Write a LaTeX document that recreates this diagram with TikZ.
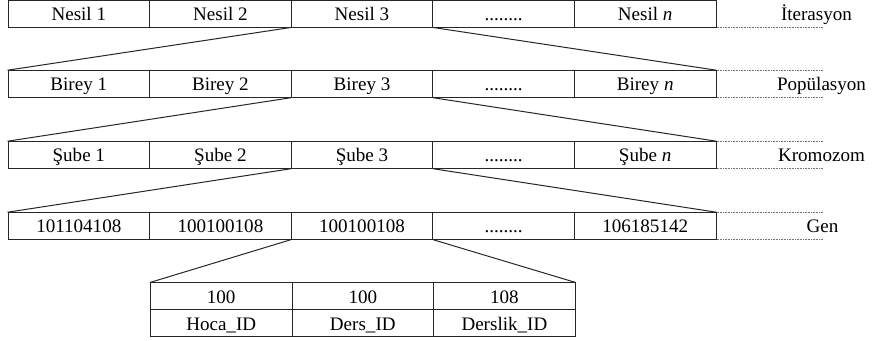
\documentclass[tikz,border=0pt]{standalone}
\usepackage{fontspec}
\setmainfont{Liberation Serif}
\begin{document}
\begin{tikzpicture}[x=0.75pt,y=-0.75pt,
  cell/.style={draw=black!85, line width=0.75pt, minimum width=106.2pt, minimum height=19.9pt, inner sep=0pt, text height=10.4pt, text depth=0pt, font=\fontsize{14.3}{17}\selectfont},
  cellb/.style={cell, minimum height=20.25pt},
  link/.style={draw=black!85, line width=0.75pt},
  dots/.style={draw=black!55, line width=0.75pt, dash pattern=on 0.6pt off 0.6pt},
  lab/.style={font=\fontsize{14.3}{17}\selectfont, inner sep=0pt, text height=10.4pt, text depth=0pt}]
\useasboundingbox (0,0) rectangle (876,341);
\coordinate (lend) at (823,0);
% Row 1
\node[cell] (n1) at (78.8,13.75) {Nesil 1};
\node[cell] (n2) at (220.4,13.75) {Nesil 2};
\node[cell] (n3) at (362,13.75) {Nesil 3};
\node[cell] (n4) at (503.6,13.75) {........};
\node[cell] (n5) at (645.2,13.75) {Nesil \textit{n}};
\node[lab] (l1) at (816.5,13.75) {İterasyon};
% Row 2
\node[cell] (b1) at (78.8,84) {Birey 1};
\node[cell] (b2) at (220.4,84) {Birey 2};
\node[cell] (b3) at (362,84) {Birey 3};
\node[cell] (b4) at (503.6,84) {........};
\node[cell] (b5) at (645.2,84) {Birey \textit{n}};
\node[lab] (l2) at (821.5,84) {Popülasyon};
% Row 3
\node[cell] (s1) at (78.8,155) {Şube 1};
\node[cell] (s2) at (220.4,155) {Şube 2};
\node[cell] (s3) at (362,155) {Şube 3};
\node[cell] (s4) at (503.6,155) {........};
\node[cell] (s5) at (645.2,155) {Şube \textit{n}};
\node[lab] (l3) at (821.5,155) {Kromozom};
% Row 4
\node[cell] (g1) at (78.8,226) {101104108};
\node[cell] (g2) at (220.4,226) {100100108};
\node[cell] (g3) at (362,226) {100100108};
\node[cell] (g4) at (503.6,226) {........};
\node[cell] (g5) at (645.2,226) {106185142};
\node[lab] (l4) at (822.5,226) {Gen};
% Row 5
\node[cellb] (h1) at (221.2,296.5) {100};
\node[cellb] (h2) at (362.8,296.5) {100};
\node[cellb] (h3) at (504.4,296.5) {108};
\node[cellb] (i1) at (221.2,323.5) {Hoca\_ID};
\node[cellb] (i2) at (362.8,323.5) {Ders\_ID};
\node[cellb] (i3) at (504.4,323.5) {Derslik\_ID};
% dotted extensions
\foreach \r in {n5,b5,s5,g5}{
  \draw[dots] (\r.north east) -- (\r.north east -| lend);
  \draw[dots] (\r.south east) -- (\r.south east -| lend);
}
% connectors
\draw[link] (n3.south west) -- (b1.north west);
\draw[link] (n3.south east) -- (b5.north east);
\draw[link] (b3.south west) -- (s1.north west);
\draw[link] (b3.south east) -- (s5.north east);
\draw[link] (s3.south west) -- (g1.north west);
\draw[link] (s3.south east) -- (g5.north east);
\draw[link] (g3.south west) -- (h1.north west);
\draw[link] (g3.south east) -- (h3.north east);
\end{tikzpicture}
\end{document}
